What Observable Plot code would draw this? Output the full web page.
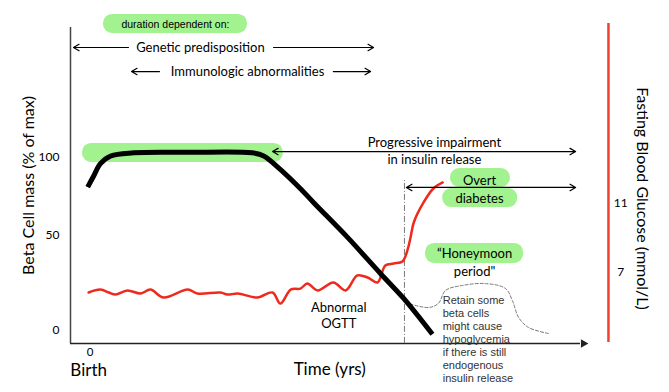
<!DOCTYPE html>
<html><head><meta charset="utf-8">
<script src="https://cdn.jsdelivr.net/npm/d3@7"></script>
<script src="https://cdn.jsdelivr.net/npm/@observablehq/plot@0.6"></script>
<style>body{margin:0;background:#fff}</style>
</head><body><div id="chart"></div>
<script>
// ---- data (time in arbitrary years, beta cell mass in % of max, glucose in mmol/L)
const betaTime = [-0.5, 0.7, 2.1, 4.2, 8.9, 20, 33, 35.4, 38.2, 42.9, 45.6, 52.5, 59.2, 63.9, 69.8];
const betaMass = [81, 88, 96, 101, 103, 103.3, 103, 101, 94, 80, 71, 49, 30, 17, -2];

const glucoseTime = [-0.3, 2.1, 3.8, 5.2, 7.6, 10.3, 12.3, 15, 19.9, 21.9, 26.6, 28, 30.1, 34.1, 37.2, 38.8, 40.9, 42.9, 44.3, 46.4, 49.6, 52.1, 54.5, 56.6, 58.6, 60.2, 61.9, 63.7, 64.7, 65.3, 66, 68, 70, 71.9];
const glucose = [5.84, 6.01, 5.84, 5.72, 5.96, 5.78, 6.01, 5.55, 6.01, 5.78, 5.84, 5.72, 5.78, 5.55, 5.84, 5.2, 6.01, 6.07, 6.36, 5.96, 6.42, 5.96, 6.83, 6.71, 6.42, 7.41, 7.52, 7.64, 8.28, 8.97, 9.9, 11.06, 11.87, 12.22];

const honeymoonTime = [64.3, 69.0, 71.0, 72.5, 75.9, 80.6, 84.7, 86.1, 87.4, 89.4, 93.5];
const honeymoonMass = [14.7, 12.1, 14.2, 21.1, 23.7, 24.7, 22.1, 15.8, 6.8, 1.6, -1.6];

const yTicks = [0, 50, 100];
const glucoseTicks = [7, 11];
const xTicks = [0];

// ---- scales: beta-cell axis (hand-spaced ticks) and glucose mapped onto it
const yDomain = [0, 50, 100];
const yRange = [330, 235, 157];
const yPix = d3.scaleLinear().domain(yDomain).range(yRange);
const gPix = d3.scaleLinear().domain([7, 11]).range([272, 203]);
const gToY = g => yPix.invert(gPix(g));

const beta = betaTime.map((t, i) => ({t, v: betaMass[i]}));
const gluc = glucoseTime.map((t, i) => ({t, v: gToY(glucose[i])}));
const honey = honeymoonTime.map((t, i) => ({t, v: honeymoonMass[i]}));
const gTickData = glucoseTicks.map(g => ({g, v: gToY(g)}));

// ---- annotations (data coordinates)
const green = "#a2f28f";
const greenBoxes = [
  {x1: -1.55, x2: 39.4, y1: 96.8, y2: 109.0},
  {x1: 2.73, x2: 32.1, y1: 179.5, y2: 191.7},
  {x1: 73.5, x2: 85.7, y1: 80.8, y2: 92.9},
  {x1: 71.9, x2: 87.2, y1: 67.9, y2: 80.1},
  {x1: 68.4, x2: 88.4, y1: 35.3, y2: 45.8}
];
const arrows = [
  {x1: 7.83, x2: -3.39, y: 170.5},
  {x1: 37.4, x2: 57.8, y: 170.5},
  {x1: 14.15, x2: 8.44, y: 155.1},
  {x1: 49.6, x2: 57.2, y: 155.1},
  {x1: 68, x2: 37.2, y: 103.8},
  {x1: 68, x2: 99, y: 103.8},
  {x1: 82, x2: 64.5, y: 80.8},
  {x1: 82, x2: 99, y: 80.8}
];
const labels = [
  {x: 22.5, y: 170.5, text: "Genetic predisposition"},
  {x: 32.1, y: 155.1, text: "Immunologic abnormalities"},
  {x: 70.2, y: 109.6, text: "Progressive impairment"},
  {x: 70.2, y: 98.7, text: "in insulin release"},
  {x: 79.4, y: 85.3, text: "Overt"},
  {x: 79.4, y: 73.7, text: "diabetes"},
  {x: 78.4, y: 40.5, text: "\u201cHoneymoon"},
  {x: 78.4, y: 31.1, text: "period\""},
  {x: 50.7, y: 12.1, text: "Abnormal"},
  {x: 50.7, y: 3.7, text: "OGTT"}
];

const chart = Plot.plot({
  width: 669, height: 392,
  marginLeft: 70, marginRight: 89, marginTop: 27, marginBottom: 49,
  style: {fontFamily: "Lato, sans-serif", background: "white", color: "black"},
  x: {type: "linear", domain: [-4, 100], range: [70, 580]},
  y: {type: "linear", domain: yDomain, range: yRange},
  marks: [
    Plot.rect(greenBoxes, {x1: "x1", x2: "x2", y1: "y1", y2: "y2", fill: green, rx: 9}),
    Plot.ruleX([-4], {y1: -6.84, y2: 183.3, stroke: "#444", strokeWidth: 1.5}),
    Plot.ruleY([-6.84], {x1: -4, x2: 100, stroke: "#222", strokeWidth: 1.3}),
    Plot.dot([{a: 100.6, b: -6.84}], {x: "a", y: "b", symbol: "triangle", rotate: 90, r: 3.2, fill: "#222", stroke: null}),
    Plot.ruleX([105.7], {y1: -6.3, y2: 185.9, stroke: "#f0402f", strokeWidth: 2.5}),
    Plot.ruleX([64.1], {y1: -6.8, y2: 85.3, stroke: "#777", strokeWidth: 1, strokeDasharray: "6,2,1,2"}),
    Plot.line(honey, {x: "t", y: "v", stroke: "#777", strokeWidth: 1, strokeDasharray: "3,2", curve: "catmull-rom"}),
    Plot.line(gluc, {x: "t", y: "v", stroke: "#ee2a1c", strokeWidth: 2.5, curve: "catmull-rom"}),
    Plot.line(beta, {x: "t", y: "v", stroke: "black", strokeWidth: 5, curve: "catmull-rom", strokeLinecap: "butt"}),
    Plot.arrow(arrows, {x1: "x1", x2: "x2", y1: "y", y2: "y", stroke: "black", strokeWidth: 1.2, headLength: 8}),
    Plot.text(labels, {x: "x", y: "y", text: "text", fontSize: 13}),
    Plot.text(["duration dependent on:"], {x: 17.4, y: 185.3, fontSize: 10.5, fontFamily: "Liberation Sans"}),
    Plot.text(["Retain some\nbeta cells\nmight cause\nhypoglycemia\nif there is still\nendogenous\ninsulin release"], {x: 71.9, y: 18.9, textAnchor: "start", lineAnchor: "top", lineHeight: 1.18, fontSize: 11, fontFamily: "Liberation Sans", fill: "#333"}),
    Plot.text(["Birth"], {x: -0.3, y: -21, fontSize: 17}),
    Plot.text(["Time (yrs)"], {x: 41.5, y: -20.5, fontSize: 17, textAnchor: "start"}),
    Plot.text(["Beta Cell mass (% of max)"], {x: -12.56, y: 82.1, rotate: -90, fontSize: 16}),
    Plot.text(["Fasting Blood Glucose (mmol/L)"], {x: 112.6, y: 73.7, rotate: 90, fontSize: 16}),
    Plot.text(gTickData, {x: 108.2, y: "v", text: d => String(d.g), fontSize: 12}),
    Plot.axisY({ticks: yTicks, tickSize: 0, tickPadding: 11, fontSize: 12, label: null}),
    Plot.axisX({ticks: xTicks, tickSize: 0, tickPadding: 4, fontSize: 11.5, label: null})
  ]
});
document.getElementById("chart").appendChild(chart);
</script>
</body></html>
